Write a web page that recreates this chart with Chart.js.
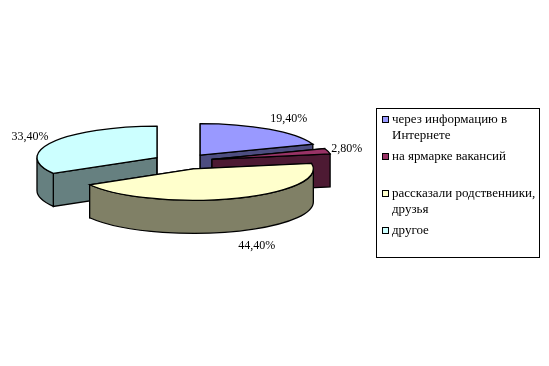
<!DOCTYPE html>
<html>
<head>
<meta charset="utf-8">
<style>
  html, body { margin: 0; padding: 0; background: #fff; }
  canvas { display: block; }
</style>
<script src="https://cdn.jsdelivr.net/npm/chart.js@4"></script>
</head>
<body>
<canvas id="chart" width="549" height="366"></canvas>
<script>
const categories = [
  ["через информацию в", "Интернете"],
  ["на ярмарке вакансий"],
  ["рассказали родственники,", "друзья"],
  ["другое"],
];
const shares = [19.4, 2.8, 44.4, 33.4];
const topColors = ["#9999ff", "#993366", "#ffffcc", "#ccffff"];
const sideColors = ["#4d4d80", "#4d1a33", "#808066", "#668080"];

const TILT = 0.2625; // vertical squash of the pie
const DEPTH = 33;
const EXPLODE = 30;
const OUTLINE = 1.3;
const DRAW_ORDER = [0, 3, 1, 2]; // back to front
const LABEL_FONT = '12px "Liberation Serif", "Times New Roman", serif';
const LEGEND_FONT = '13px "Liberation Serif", "Times New Roman", serif';

// label distance from the slice rim, x and y
const labelNudge = [
  [20, -10],
  [19, -2],
  [22, 47],
  [-23, -5],
];
const legendRows = [120, 157, 194, 231];

function formatShare(v) {
  return v.toFixed(2).replace(".", ",") + "%";
}

function sliceGeometry(arc) {
  const mid = (arc.startAngle + arc.endAngle) / 2;
  return {
    dx: EXPLODE * Math.cos(mid),
    dy: EXPLODE * TILT * Math.sin(mid),
    x: arc.x + EXPLODE * Math.cos(mid),
    y: arc.y + EXPLODE * TILT * Math.sin(mid),
    a: arc.outerRadius,
    b: arc.outerRadius * TILT,
    start: arc.startAngle,
    end: arc.endAngle,
    mid: mid,
  };
}

function drawWalls(ctx, g, color) {
  ctx.fillStyle = color;
  ctx.strokeStyle = "#000";
  ctx.lineWidth = OUTLINE;
  [g.start, g.end].forEach(function (t) {
    const px = g.x + g.a * Math.cos(t);
    const py = g.y + g.b * Math.sin(t);
    ctx.beginPath();
    ctx.moveTo(g.x, g.y);
    ctx.lineTo(px, py);
    ctx.lineTo(px, py + DEPTH);
    ctx.lineTo(g.x, g.y + DEPTH);
    ctx.closePath();
    ctx.fill();
    ctx.stroke();
  });
  // outer wall, only the part facing the viewer
  const from = Math.max(g.start, 0);
  const to = Math.min(g.end, Math.PI);
  if (to > from) {
    ctx.beginPath();
    ctx.ellipse(g.x, g.y, g.a, g.b, 0, from, to);
    ctx.ellipse(g.x, g.y + DEPTH, g.a, g.b, 0, to, from, true);
    ctx.closePath();
    ctx.fill();
    ctx.stroke();
  }
}

const pie3d = {
  id: "pie3d",
  beforeDatasetDraw(chart, args) {
    const ctx = chart.ctx;
    const arcs = args.meta.data;
    DRAW_ORDER.forEach(function (i) {
      const arc = arcs[i];
      const g = sliceGeometry(arc);
      ctx.save();
      drawWalls(ctx, g, sideColors[i]);
      ctx.restore();

      // top face is the library's own arc, squashed and pulled out
      ctx.save();
      ctx.translate(g.dx, arc.y + g.dy);
      ctx.scale(1, TILT);
      ctx.translate(0, -arc.y);
      arc.draw(ctx);
      ctx.restore();

      ctx.save();
      ctx.strokeStyle = "#000";
      ctx.lineWidth = OUTLINE;
      ctx.beginPath();
      ctx.moveTo(g.x, g.y);
      ctx.ellipse(g.x, g.y, g.a, g.b, 0, g.start, g.end);
      ctx.closePath();
      ctx.stroke();
      ctx.restore();
    });
    return false;
  },
  afterDatasetsDraw(chart) {
    const ctx = chart.ctx;
    const arcs = chart.getDatasetMeta(0).data;
    ctx.save();
    ctx.font = LABEL_FONT;
    ctx.fillStyle = "#000";
    ctx.textAlign = "center";
    ctx.textBaseline = "middle";
    arcs.forEach(function (arc, i) {
      const g = sliceGeometry(arc);
      const x = g.x + g.a * Math.cos(g.mid) + labelNudge[i][0];
      const y = g.y + g.b * Math.sin(g.mid) + labelNudge[i][1];
      ctx.fillText(formatShare(shares[i]), x, y);
    });

    // legend
    ctx.font = LEGEND_FONT;
    ctx.strokeStyle = "#000";
    ctx.lineWidth = 1;
    ctx.strokeRect(376.5, 108.5, 163, 149);
    ctx.textAlign = "left";
    categories.forEach(function (lines, i) {
      const y = legendRows[i];
      ctx.fillStyle = topColors[i];
      ctx.fillRect(382.5, y - 3.5, 6, 6);
      ctx.strokeRect(382.5, y - 3.5, 6, 6);
      ctx.fillStyle = "#000";
      lines.forEach(function (line, n) {
        ctx.fillText(line, 392, y + n * 16);
      });
    });
    ctx.restore();
  },
};

new Chart(document.getElementById("chart"), {
  type: "pie",
  data: {
    labels: categories,
    datasets: [
      {
        data: shares,
        backgroundColor: topColors,
        borderWidth: 0,
      },
    ],
  },
  options: {
    responsive: false,
    animation: false,
    radius: 120,
    layout: {
      padding: { left: 0, top: 0, right: 183, bottom: 43 },
    },
    plugins: {
      legend: { display: false },
      tooltip: { enabled: false },
    },
  },
  plugins: [pie3d],
});
</script>
</body>
</html>
